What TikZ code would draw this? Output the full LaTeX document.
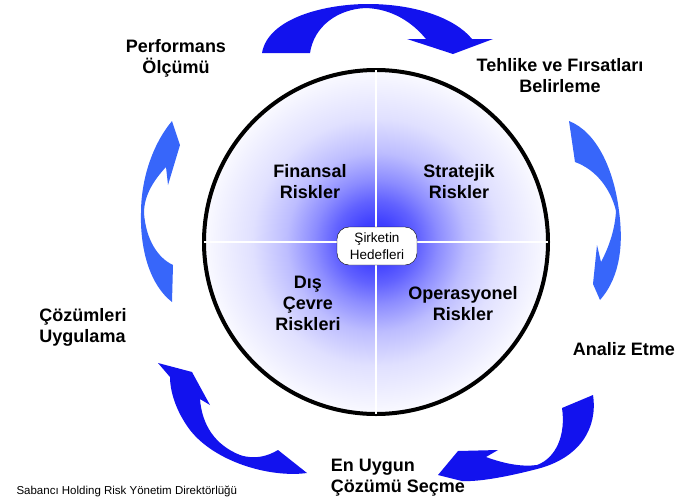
\documentclass[tikz,border=0pt]{standalone}
\usepackage{fontspec}
\setmainfont{Liberation Sans}
\usepackage{xcolor}
\usepackage{tikz}
\usetikzlibrary{positioning, shapes.misc}

\definecolor{banddark}{RGB}{18,18,238}
\definecolor{bandlight}{RGB}{55,102,250}
\pgfdeclareradialshading{hubglow}{\pgfpoint{0bp}{0bp}}{%
  rgb(0bp)=(0.18,0.18,1); rgb(3bp)=(0.25,0.25,1); rgb(6bp)=(0.38,0.38,1);
  rgb(9bp)=(0.55,0.55,1); rgb(13bp)=(0.74,0.74,1); rgb(18bp)=(0.88,0.88,1);
  rgb(23bp)=(0.95,0.95,1); rgb(25bp)=(0.98,0.98,1); rgb(50bp)=(1,1,1)}

\begin{document}
\begin{tikzpicture}[x=1pt, y=-1pt,
    ring/.style={circle, draw, line width=4pt, minimum size=344pt,
                 shading=hubglow, inner sep=0pt},
    goal/.style={rectangle, draw, fill=white, rounded corners=12pt, thin,
                 minimum width=80pt, minimum height=38pt, align=center,
                 font=\fontsize{13.5}{17}\selectfont},
    risk/.style={align=center, font=\bfseries\fontsize{18}{21}\selectfont},
    stage/.style={align=center, font=\bfseries\fontsize{18}{21}\selectfont},
    note/.style={anchor=west, font=\fontsize{11.5}{13}\selectfont},
    dark/.style={fill=banddark},
    light/.style={fill=bandlight},
]
\useasboundingbox (0,0) rectangle (686,499);

% hub with the four risk fields
\node[ring] (hub) at (376,242) {};
\draw[white, line width=1.2pt, shorten <=2pt, shorten >=2pt] (hub.north) -- (hub.south);
\draw[white, line width=1.2pt, shorten <=2pt, shorten >=2pt] (hub.west) -- (hub.east);
\node[goal] (goal) at (377,246) {Şirketin\\Hedefleri};
\node[risk] (fin) at (310,182) {Finansal\\Riskler};
\node[risk] (str) at (459,182) {Stratejik\\Riskler};
\node[risk] (dis) at (308,303) {Dış\\Çevre\\Riskleri};
\node[risk] (ope) at (463,304) {Operasyonel\\Riskler};

% cycle stages
\node[stage] (perf) at (176,58)  {Performans\\Ölçümü};
\node[stage] (teh)  at (560,76)  {Tehlike ve Fırsatları\\Belirleme};
\node[stage] (ana)  at (624,349) {Analiz Etme};
\node[stage, align=left] (sec) at (398,478) {En Uygun\\Çözümü Seçme};
\node[stage, align=left] (uyg) at (83,327) {Çözümleri\\Uygulama};
\node[note] (src) at (13,491) {Sabancı Holding Risk Yönetim Direktörlüğü};

% curved arrows
\fill[dark] (262,53) .. controls (268,18) and (325,4) .. (368,4)
  .. controls (415,4) and (455,18) .. (472,39) -- (493,39) -- (453,54)
  -- (407,39) -- (426,39) .. controls (412,22) and (392,9) .. (366,8)
  .. controls (338,9) and (314,26) .. (310,53) -- cycle;
\fill[light] (569,121) .. controls (597,132) and (614,170) .. (619,211)
  .. controls (623,240) and (622,275) .. (600,300) -- (593,284) -- (597,245)
  -- (601,262) .. controls (610,245) and (615,228) .. (616,211)
  .. controls (611,190) and (597,170) .. (575,162) -- cycle;
\fill[dark] (562,408) -- (593,395) .. controls (598,428) and (580,458) .. (537,469)
  .. controls (510,476) and (480,482) .. (462,481) -- (438,475) -- (458,451)
  -- (498,450) -- (486,457) .. controls (505,464) and (522,467) .. (537,465)
  .. controls (556,458) and (566,435) .. (562,408) -- cycle;
\fill[dark] (307,473) .. controls (270,478) and (215,462) .. (190,430)
  .. controls (175,410) and (170,390) .. (170,377) -- (158,363) -- (192,372)
  -- (210,405) -- (200,399) .. controls (202,425) and (215,445) .. (240,455)
  .. controls (255,460) and (268,456) .. (278,450) -- cycle;
\fill[light] (172,302) .. controls (150,285) and (140,250) .. (141,213)
  .. controls (141,180) and (152,145) .. (172,121) -- (180,145) -- (168,185)
  -- (166,167) .. controls (154,180) and (144,195) .. (144,213)
  .. controls (146,240) and (158,258) .. (173,265) -- cycle;
\end{tikzpicture}
\end{document}
